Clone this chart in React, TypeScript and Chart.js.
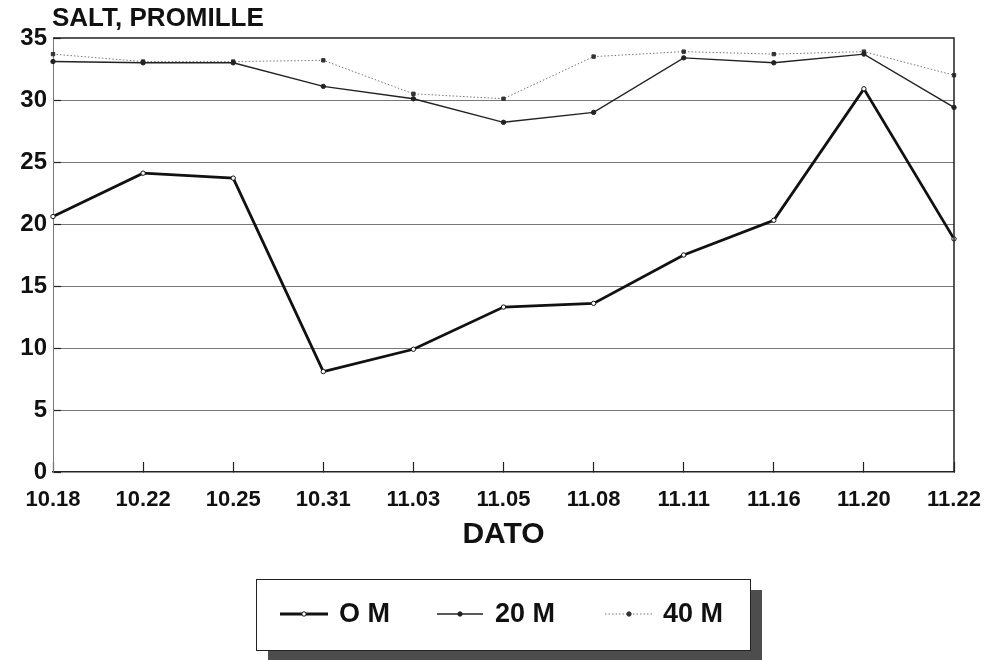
import { useEffect, useRef } from 'react';
import Chart from 'chart.js/auto';

const DATES = ['10.18', '10.22', '10.25', '10.31', '11.03', '11.05', '11.08', '11.11', '11.16', '11.20', '11.22'];
const SALT_0M = [20.6, 24.1, 23.7, 8.1, 9.9, 13.3, 13.6, 17.5, 20.3, 30.9, 18.8];
const SALT_20M = [33.1, 33.0, 33.0, 31.1, 30.1, 28.2, 29.0, 33.4, 33.0, 33.7, 29.4];
const SALT_40M = [33.7, 33.1, 33.1, 33.2, 30.5, 30.1, 33.5, 33.9, 33.7, 33.9, 32.0];
const SERIES_NAMES = ['O M', '20 M', '40 M'];

const FONT = "'Liberation Sans', Arial, sans-serif";
const INK = '#111';

const framePlugin = {
  id: 'frame',
  afterDraw(chart: Chart) {
    const { ctx, chartArea: a } = chart;
    ctx.save();
    ctx.strokeStyle = '#222';
    ctx.lineWidth = 1.5;
    ctx.beginPath();
    ctx.moveTo(a.left, a.top);
    ctx.lineTo(a.right, a.top);
    ctx.lineTo(a.right, a.bottom);
    ctx.stroke();

    // title
    ctx.fillStyle = INK;
    ctx.font = `bold 26px ${FONT}`;
    ctx.textBaseline = 'alphabetic';
    ctx.textAlign = 'left';
    ctx.fillText('SALT, PROMILLE', 52, 26);
    ctx.restore();
  },
};

const boxLegendPlugin = {
  id: 'boxLegend',
  afterDraw(chart: Chart) {
    const { ctx } = chart;
    const left = 256, top = 579, right = 750, bottom = 650;
    ctx.save();
    // shadow
    ctx.fillStyle = '#4d4d4d';
    ctx.fillRect(right, top + 11, 12, bottom - top);
    ctx.fillRect(left + 12, bottom, right - left, 10);
    // box
    ctx.fillStyle = '#fff';
    ctx.fillRect(left, top, right - left, bottom - top);
    ctx.strokeStyle = '#222';
    ctx.lineWidth = 1;
    ctx.strokeRect(left + 0.5, top + 0.5, right - left, bottom - top);

    const items = [
      { x1: 280, x2: 328, tx: 339 },
      { x1: 437, x2: 483, tx: 495 },
      { x1: 605, x2: 653, tx: 663 },
    ];
    const cy = 614;
    chart.data.datasets.forEach((ds: any, i: number) => {
      const it = items[i];
      ctx.strokeStyle = ds.borderColor;
      ctx.lineWidth = ds.borderWidth;
      ctx.setLineDash(ds.borderDash || []);
      ctx.beginPath();
      ctx.moveTo(it.x1, cy);
      ctx.lineTo(it.x2, cy);
      ctx.stroke();
      ctx.setLineDash([]);
      ctx.fillStyle = ds.pointBackgroundColor;
      ctx.strokeStyle = ds.pointBorderColor;
      ctx.lineWidth = 1;
      ctx.beginPath();
      ctx.arc((it.x1 + it.x2) / 2, cy, 2.2, 0, Math.PI * 2);
      ctx.fill();
      ctx.stroke();
      ctx.fillStyle = INK;
      ctx.font = `bold 27px ${FONT}`;
      ctx.textBaseline = 'middle';
      ctx.textAlign = 'left';
      ctx.fillText(ds.label, it.tx, cy + 1);
    });
    ctx.restore();
  },
};

function SaltChart() {
  const canvasRef = useRef<HTMLCanvasElement>(null);
  const chartRef = useRef<Chart | null>(null);

  useEffect(() => {
    document.body.style.margin = '0';
    if (!canvasRef.current) return;
    if (chartRef.current) chartRef.current.destroy();

    chartRef.current = new Chart(canvasRef.current, {
      type: 'line',
      data: {
        labels: DATES,
        datasets: [
          {
            label: SERIES_NAMES[0],
            data: SALT_0M,
            borderColor: '#111',
            borderWidth: 2.8,
            pointRadius: 2.2,
            pointBorderWidth: 1,
            pointBackgroundColor: '#fff',
            pointBorderColor: '#111',
            tension: 0,
          },
          {
            label: SERIES_NAMES[1],
            data: SALT_20M,
            borderColor: '#222',
            borderWidth: 1.4,
            pointRadius: 2.2,
            pointBorderWidth: 1,
            pointBackgroundColor: '#222',
            pointBorderColor: '#222',
            tension: 0,
          },
          {
            label: SERIES_NAMES[2],
            data: SALT_40M,
            borderColor: '#777',
            borderWidth: 1,
            borderDash: [1.5, 2],
            pointStyle: 'rect',
            pointRadius: 2.4,
            pointBorderWidth: 1,
            pointBackgroundColor: '#333',
            pointBorderColor: '#333',
            tension: 0,
          },
        ],
      },
      options: {
        responsive: false,
        animation: false,
        layout: { padding: { left: 0, right: 37, top: 38, bottom: 98 } },
        plugins: { legend: { display: false }, tooltip: { enabled: false } },
        scales: {
          x: {
            type: 'category',
            offset: false,
            afterFit: (s: any) => {
              s.height = 90;
              s.paddingLeft = 0;
              s.paddingRight = 0;
            },
            border: { display: true, color: '#222', width: 1.5 },
            grid: {
              drawOnChartArea: false,
              drawTicks: true,
              tickLength: -10,
              tickColor: '#222',
              tickWidth: 1.2,
            },
            ticks: {
              autoSkip: false,
              maxRotation: 0,
              padding: 25,
              color: INK,
              font: { family: FONT, size: 22, weight: 'bold' },
            },
            title: {
              display: true,
              text: 'DATO',
              color: INK,
              padding: { top: 0, bottom: 9 },
              font: { family: FONT, size: 30, weight: 'bold' },
            },
          },
          y: {
            min: 0,
            max: 35,
            afterFit: (s: any) => {
              s.width = 53;
              s.paddingTop = 0;
              s.paddingBottom = 0;
            },
            border: { display: true, color: '#777', width: 1 },
            grid: {
              color: (c: any) => (c.tick.value === 0 || c.tick.value === 35 ? 'rgba(0,0,0,0)' : '#777'),
              lineWidth: 1,
              borderDash: [1, 2],
              drawTicks: true,
              tickLength: -8,
              tickColor: '#222',
              tickWidth: 1.2,
              tickBorderDash: [],
            },
            ticks: {
              stepSize: 5,
              padding: 14,
              color: INK,
              font: { family: FONT, size: 24, weight: 'bold' },
            },
          },
        },
      },
      plugins: [framePlugin, boxLegendPlugin],
    });

    return () => {
      chartRef.current?.destroy();
      chartRef.current = null;
    };
  }, []);

  return <canvas ref={canvasRef} width={991} height={660} style={{ display: 'block' }} />;
}

export default function App() {
  return (
    <div style={{ width: 991, height: 660, background: '#fff' }}>
      <SaltChart />
    </div>
  );
}
